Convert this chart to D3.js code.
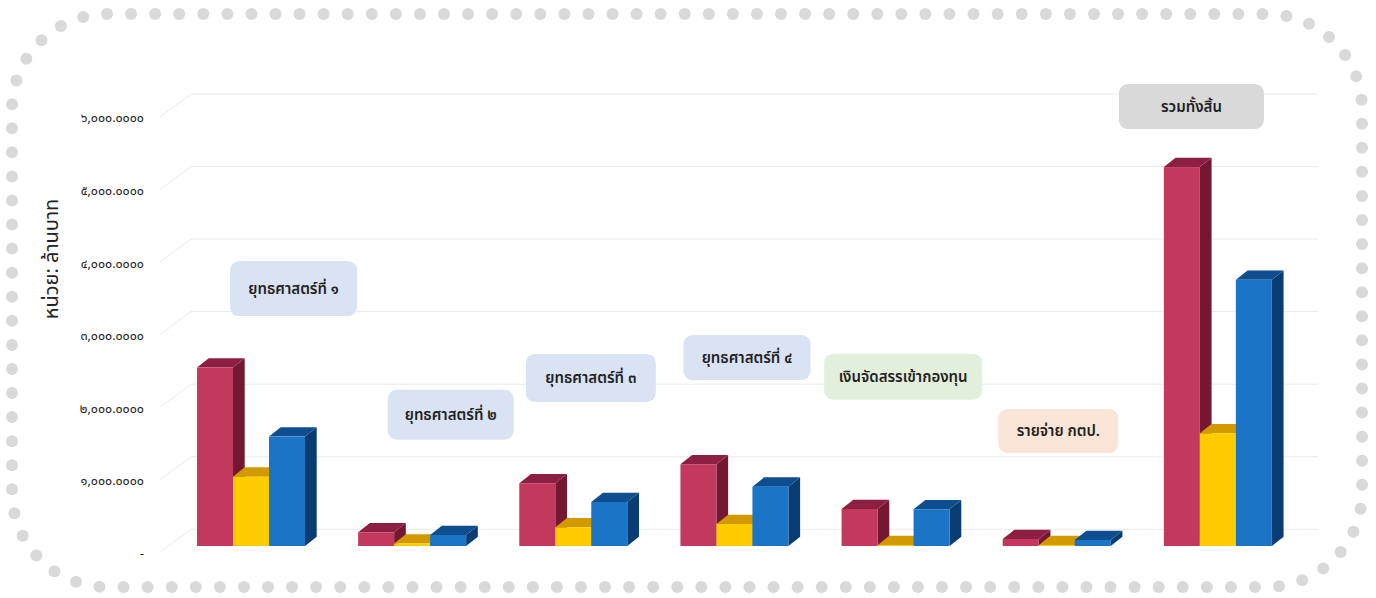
<!DOCTYPE html>
<html><head><meta charset="utf-8">
<script src="https://cdn.jsdelivr.net/npm/d3@7"></script>
<style>html,body{margin:0;padding:0;background:#fff;overflow:hidden}
text{font-family:"Noto Sans Thai","Noto Sans Thai UI","Tahoma","Leelawadee UI","Loma","Garuda","Sarabun","Noto Sans",sans-serif}</style>
</head><body><svg id="chart" width="1376" height="598"></svg>
<script>
// ---------- data ----------
const categories = ["ยุทธศาสตร์ที่ ๑","ยุทธศาสตร์ที่ ๒","ยุทธศาสตร์ที่ ๓","ยุทธศาสตร์ที่ ๔","เงินจัดสรรเข้ากองทุน","รายจ่าย กตป.","รวมทั้งสิ้น"];
const seriesNames = ["ชุดที่ ๑","ชุดที่ ๒","ชุดที่ ๓"];
const series1 = [2459, 189, 865, 1127, 510, 97, 5223];
const series2 = [956, 35, 258, 303, 12, 12, 1554];
const series3 = [1508, 152, 607, 818, 506, 83, 3669];
const yTicks = [0,1000,2000,3000,4000,5000,6000];
const yTickLabels = ["-","๑,๐๐๐.๐๐๐๐","๒,๐๐๐.๐๐๐๐","๓,๐๐๐.๐๐๐๐","๔,๐๐๐.๐๐๐๐","๕,๐๐๐.๐๐๐๐","๖,๐๐๐.๐๐๐๐"];
const yTitle = "หน่วย: ล้านบาท";

// ---------- layout / style ----------
const colors = [
  {front:"#c3385f", top:"#8c1f42", side:"#731733"},
  {front:"#ffcc00", top:"#d39a00", side:"#b07f00"},
  {front:"#1b74c5", top:"#0e4e8f", side:"#073d72"}
];
const boxFill = ["#dae3f3","#dae3f3","#dae3f3","#dae3f3","#e2efda","#fbe5d6","#d9d9d9"];
// label box layout: dx from band center, value level of box centre, width, height
const boxLayout = [
  {dx:23, lvl:3549, w:127, h:55},
  {dx:19, lvl:1809, w:126, h:50},
  {dx:-2, lvl:2316, w:130, h:48},
  {dx:-7, lvl:2598, w:127, h:45},
  {dx:-12, lvl:2334, w:158, h:46},
  {dx:-18, lvl:1585, w:120, h:44},
  {dx:-46, lvl:6057, w:145, h:45}
];
const depthX = 11.7, depthY = 9.3;      // bar 3D depth
const wallX = 31, wallY = 23;            // floor depth (grid diagonal)
const frontBase = 546;

const svg = d3.select("#chart");

// ---------- dotted frame ----------
(function(){
  const x0=12, y0=14, x1=1362, y1=587, r=95;
  const p = d3.path();
  p.moveTo(x0+r, y0);
  p.lineTo(x1-r, y0); p.arcTo(x1, y0, x1, y0+r, r);
  p.lineTo(x1, y1-r); p.arcTo(x1, y1, x1-r, y1, r);
  p.lineTo(x0+r, y1); p.arcTo(x0, y1, x0, y1-r, r);
  p.lineTo(x0, y0+r); p.arcTo(x0, y0, x0+r, y0, r);
  p.closePath();
  const path = svg.append("path").attr("d", p.toString()).attr("fill","none").attr("stroke","none");
  const L = path.node().getTotalLength();
  const n = Math.round(L/24);
  const pts = d3.range(n).map(i => path.node().getPointAtLength(i*L/n));
  svg.append("g").selectAll("circle").data(pts).join("circle")
    .attr("cx", d=>d.x).attr("cy", d=>d.y).attr("r", 6).attr("fill", "#d9d9d9");
})();

// ---------- scales ----------
const x = d3.scaleBand().domain(categories).range([190, 1318]).padding(0);
const xs = d3.scaleBand().domain(seriesNames).range([7, 115]).padding(0);
const y = d3.scaleLinear().domain([0, 6000]).range([frontBase, frontBase - 6000*0.07255]);
const yBack = v => y(v) - 16.7;

// ---------- gridlines ----------
const grid = svg.append("g");
grid.selectAll("line.h").data(yTicks).join("line").attr("class","h")
  .attr("x1", 191).attr("x2", 1318)
  .attr("y1", d=>yBack(d)).attr("y2", d=>yBack(d))
  .attr("stroke", "#ebebeb").attr("stroke-width", 1);
grid.selectAll("line.d").data(yTicks).join("line").attr("class","d")
  .attr("x1", 191-wallX).attr("x2", 191)
  .attr("y1", d=>yBack(d)+wallY).attr("y2", d=>yBack(d))
  .attr("stroke", "#ebebeb").attr("stroke-width", 1);

// tick labels
svg.append("g").selectAll("text").data(yTicks).join("text")
  .attr("x", 144).attr("y", d=>yBack(d)+wallY+2)
  .attr("text-anchor","end").attr("dominant-baseline","middle")
  .attr("font-size", 12.5).attr("fill", "#222")
  .text((d,i)=>yTickLabels[i]);

// axis title
svg.append("text")
  .attr("transform","translate(52,259) rotate(-90)")
  .attr("text-anchor","middle").attr("dominant-baseline","middle")
  .attr("font-size", 20).attr("fill","#222")
  .text(yTitle);

// ---------- bars ----------
const allSeries = [series1, series2, series3];
const bars = [];
categories.forEach((c, ci) => {
  allSeries.forEach((s, si) => {
    bars.push({c, s: seriesNames[si], si, v: s[ci]});
  });
});
const bw = xs.bandwidth();
const gBars = svg.append("g");
const bg = gBars.selectAll("g").data(bars).join("g");
bg.each(function(d){
  const g = d3.select(this);
  const x0 = x(d.c) + xs(d.s), x1 = x0 + bw;
  const yt = y(d.v), yb = y(0);
  const col = colors[d.si];
  // side
  g.append("path").attr("d",
    `M${x1},${yt}L${x1+depthX},${yt-depthY}L${x1+depthX},${yb-depthY}L${x1},${yb}Z`)
    .attr("fill", col.side);
  // top
  g.append("path").attr("d",
    `M${x0},${yt}L${x0+depthX},${yt-depthY}L${x1+depthX},${yt-depthY}L${x1},${yt}Z`)
    .attr("fill", col.top);
  // front
  g.append("rect").attr("x", x0).attr("y", yt).attr("width", bw).attr("height", yb-yt)
    .attr("fill", col.front);
});

// ---------- category label boxes ----------
const gl = svg.append("g").selectAll("g").data(categories).join("g")
  .attr("transform", (d,i)=>`translate(${x(d)+x.bandwidth()/2+boxLayout[i].dx},${y(boxLayout[i].lvl)})`);
gl.append("rect")
  .attr("x", (d,i)=>-boxLayout[i].w/2).attr("y", (d,i)=>-boxLayout[i].h/2)
  .attr("width", (d,i)=>boxLayout[i].w).attr("height", (d,i)=>boxLayout[i].h)
  .attr("rx", 9).attr("fill", (d,i)=>boxFill[i]);
gl.append("text").attr("text-anchor","middle").attr("dominant-baseline","middle")
  .attr("y", 1).attr("font-size", 15).attr("font-weight", 600).attr("fill","#222")
  .text(d=>d);
</script></body></html>
